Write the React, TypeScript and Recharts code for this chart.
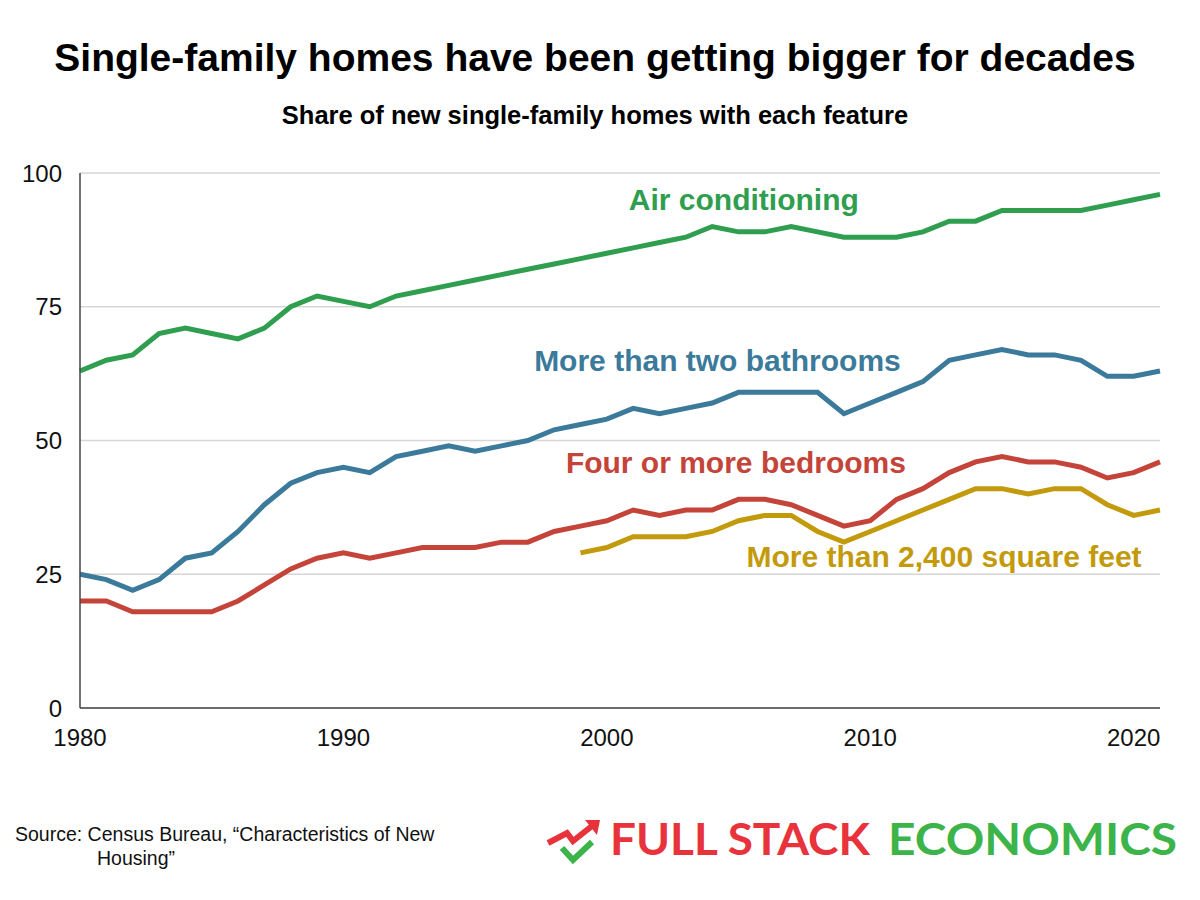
import { LineChart, Line, XAxis, YAxis, CartesianGrid, ReferenceDot } from "recharts";

const years = [
  1980, 1981, 1982, 1983, 1984, 1985, 1986, 1987, 1988, 1989, 1990, 1991, 1992, 1993,
  1994, 1995, 1996, 1997, 1998, 1999, 2000, 2001, 2002, 2003, 2004, 2005, 2006, 2007,
  2008, 2009, 2010, 2011, 2012, 2013, 2014, 2015, 2016, 2017, 2018, 2019, 2020, 2021,
];

const airConditioning = [
  63, 65, 66, 70, 71, 70, 69, 71, 75, 77, 76, 75, 77, 78, 79, 80, 81, 82, 83, 84, 85, 86,
  87, 88, 90, 89, 89, 90, 89, 88, 88, 88, 89, 91, 91, 93, 93, 93, 93, 94, 95, 96,
];

const bathrooms = [
  25, 24, 22, 24, 28, 29, 33, 38, 42, 44, 45, 44, 47, 48, 49, 48, 49, 50, 52, 53, 54, 56,
  55, 56, 57, 59, 59, 59, 59, 55, 57, 59, 61, 65, 66, 67, 66, 66, 65, 62, 62, 63,
];

const bedrooms = [
  20, 20, 18, 18, 18, 18, 20, 23, 26, 28, 29, 28, 29, 30, 30, 30, 31, 31, 33, 34, 35, 37,
  36, 37, 37, 39, 39, 38, 36, 34, 35, 39, 41, 44, 46, 47, 46, 46, 45, 43, 44, 46,
];

// square footage series starts in 1999
const sqftStart = 1999;
const sqft = [29, 30, 32, 32, 32, 33, 35, 36, 36, 33, 31, 33, 35, 37, 39, 41, 41, 40, 41, 41, 38, 36, 37];

const yTicks = [0, 25, 50, 75, 100];
const xTicks = [1980, 1990, 2000, 2010, 2020];

const seriesLabels = [
  { text: "Air conditioning", year: 2005.2, value: 95, color: "#2f9e4f" },
  { text: "More than two bathrooms", year: 2004.2, value: 65, color: "#3b7a9a" },
  { text: "Four or more bedrooms", year: 2004.9, value: 45.8, color: "#c4443a" },
  { text: "More than 2,400 square feet", year: 2012.8, value: 28.4, color: "#c29a0c" },
];

const data = years.map((year, i) => ({
  year,
  ac: airConditioning[i],
  bath: bathrooms[i],
  bed: bedrooms[i],
  sqft: year >= sqftStart ? sqft[year - sqftStart] : null,
}));

const font = "'Liberation Sans', Arial, sans-serif";

const LabelText = ({ viewBox, text, color }: any) => (
  <text
    x={viewBox.cx ?? viewBox.x}
    y={viewBox.cy ?? viewBox.y}
    textAnchor="middle"
    dominantBaseline="central"
    fill={color}
    fontSize={30}
    fontWeight="bold"
    fontFamily={font}
  >
    {text}
  </text>
);

const Logo = () => (
  <svg width={650} height={70} style={{ position: "absolute", left: 545, top: 808 }}>
    {/* zigzag arrow + check mark */}
    <polyline points="3,35 22,25 28,33 47,18" fill="none" stroke="#e8323c" strokeWidth={6} strokeLinejoin="miter" />
    <polygon points="40,12 55,12 52,27" fill="#e8323c" />
    <polyline points="17,40 28,52 47,34" fill="none" stroke="#3cb44a" strokeWidth={6} />
    <text
      x={65}
      y={47}
      fontFamily="Lato, 'Open Sans', sans-serif"
      fontWeight="bold"
      fontSize={44}
      fill="#e8323c"
      textLength={260}
      lengthAdjust="spacingAndGlyphs"
    >
      FULL STACK
    </text>
    <text
      x={343}
      y={47}
      fontFamily="Lato, 'Open Sans', sans-serif"
      fontWeight="bold"
      fontSize={44}
      fill="#3cb44a"
      textLength={289}
      lengthAdjust="spacingAndGlyphs"
    >
      ECONOMICS
    </text>
  </svg>
);

export default function App() {
  return (
    <div
      style={{
        position: "absolute",
        left: 0,
        top: 0,
        width: 1200,
        height: 900,
        background: "#fff",
        fontFamily: font,
      }}
    >
      <div
        style={{
          position: "absolute",
          top: 36,
          left: 0,
          width: 1190,
          textAlign: "center",
          fontSize: 39,
          fontWeight: "bold",
          color: "#000",
          whiteSpace: "nowrap",
        }}
      >
        Single-family homes have been getting bigger for decades
      </div>
      <div
        style={{
          position: "absolute",
          top: 101,
          left: 0,
          width: 1190,
          textAlign: "center",
          fontSize: 25.5,
          fontWeight: "bold",
          color: "#000",
        }}
      >
        Share of new single-family homes with each feature
      </div>

      <div style={{ position: "absolute", left: 0, top: 0 }}>
        <LineChart
          width={1200}
          height={900}
          data={data}
          margin={{ top: 173, right: 40, bottom: 152, left: 20 }}
        >
          <CartesianGrid vertical={false} stroke="#d6d6d6" strokeWidth={1.5} />
          <XAxis
            dataKey="year"
            type="number"
            domain={[1980, 2021]}
            ticks={xTicks}
            tickLine={false}
            axisLine={{ stroke: "#444", strokeWidth: 1.5 }}
            tick={{ fill: "#111", fontSize: 24, fontFamily: font }}
            tickMargin={15}
            height={40}
            interval={0}
          />
          <YAxis
            domain={[0, 100]}
            ticks={yTicks}
            tickLine={false}
            axisLine={{ stroke: "#444", strokeWidth: 1.5 }}
            tick={{ fill: "#111", fontSize: 24, fontFamily: font }}
            tickMargin={12}
            width={60}
            interval={0}
          />
          <Line dataKey="ac" stroke="#2f9e4f" strokeWidth={5} dot={false} isAnimationActive={false} />
          <Line dataKey="bath" stroke="#3b7a9a" strokeWidth={5} dot={false} isAnimationActive={false} />
          <Line dataKey="bed" stroke="#c4443a" strokeWidth={5} dot={false} isAnimationActive={false} />
          <Line dataKey="sqft" stroke="#c29a0c" strokeWidth={5} dot={false} isAnimationActive={false} />
          {seriesLabels.map((l) => (
            <ReferenceDot
              key={l.text}
              x={l.year}
              y={l.value}
              r={0}
              ifOverflow="visible"
              label={<LabelText text={l.text} color={l.color} />}
            />
          ))}
        </LineChart>
      </div>

      <div
        style={{
          position: "absolute",
          left: 15,
          top: 822,
          fontSize: 19.5,
          lineHeight: "24px",
          color: "#111",
          whiteSpace: "nowrap",
        }}
      >
        Source: Census Bureau, “Characteristics of New
        <br />
        <span style={{ paddingLeft: 82 }}>Housing”</span>
      </div>

      <Logo />
    </div>
  );
}
